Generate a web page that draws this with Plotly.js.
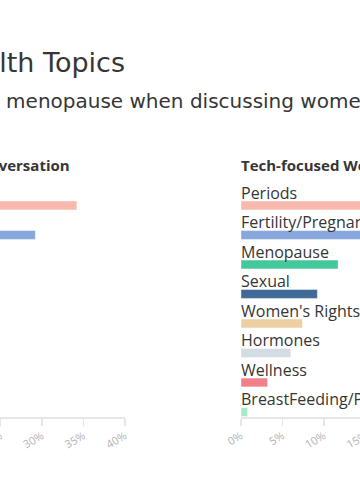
<!DOCTYPE html>
<html>
<head>
<meta charset="utf-8">
<script src="https://cdn.plot.ly/plotly-3.0.1.min.js"></script>
<style>
html, body { margin:0; padding:0; width:360px; height:500px; overflow:hidden; background:#fff; }
#wrap { position:relative; width:360px; height:500px; overflow:hidden; }
#chart { position:absolute; left:-300px; top:0; width:960px; height:500px; }
</style>
</head>
<body>
<div id="wrap"><div id="chart"></div></div>
<script>
const categories = ["Periods", "Fertility/Pregnancy", "Menopause", "Sexual", "Women's Rights", "Hormones", "Wellness", "BreastFeeding/Postpartum"];
const generalValues = [34.2, 29.2, 4.5, 14.0, 10.0, 3.5, 2.5, 1.5];
const techValues = [27.0, 25.0, 11.7, 9.2, 7.4, 6.0, 3.2, 0.8];
const colors = ["#f8b8ab", "#87a7dc", "#44c89b", "#3f6996", "#eccfa2", "#d4dce3", "#f28088", "#a5ebc8"];
const tickVals = [0, 5, 10, 15, 20, 25, 30, 35, 40];
const tickText = ["0%", "5%", "10%", "15%", "20%", "25%", "30%", "35%", "40%"];
const mainTitle = "Women's Health Topics";
const subPrefix = "Tech media spotlights ";
const subRest = "menopause when discussing women's health";
const leftTitle = "Women's Health in General Conversation";
const rightTitle = "Tech-focused Women's Health Media";

const n = categories.length;
const rowPos = categories.map((c, i) => n - 1 - i);

const FONT = "Open Sans, sans-serif";
const HFONT = "DejaVu Sans, sans-serif";
const TXT = "#363636";

// the figure is wider than the window; the window shows a part of it
const OFFSET = 300, ML = 93, PW = 780;
const pxToPaper = vx => (vx + OFFSET - ML) / PW;

const cv = document.createElement("canvas").getContext("2d");
cv.font = "20px 'DejaVu Sans'";
const prefixW = cv.measureText(subPrefix).width;

const barCommon = {
  type: "bar", orientation: "h", width: 0.3,
  marker: { color: colors, line: { color: "rgba(255,255,255,0.45)", width: 1 } },
  hoverinfo: "none", showlegend: false
};
const traces = [
  Object.assign({}, barCommon, { x: generalValues, y: rowPos, xaxis: "x", yaxis: "y" }),
  Object.assign({}, barCommon, { x: techValues, y: rowPos, xaxis: "x2", yaxis: "y2" })
];

const annotations = [];
categories.forEach((c, i) => {
  ["x", "x2"].forEach((ax, k) => {
    annotations.push({
      text: c, x: 0, xshift: -2, y: rowPos[i] + 0.43, xref: ax, yref: k === 0 ? "y" : "y2",
      xanchor: "left", yanchor: "middle", showarrow: false,
      font: { family: FONT, size: 16, color: TXT }
    });
  });
});
annotations.push({
  text: "<b>" + leftTitle + "</b>", x: pxToPaper(72), y: 1.086, xref: "paper", yref: "paper",
  xanchor: "right", yanchor: "middle", showarrow: false,
  font: { family: FONT, size: 15, color: TXT }
});
annotations.push({
  text: "<b>" + rightTitle + "</b>", x: pxToPaper(239), y: 1.086, xref: "paper", yref: "paper",
  xanchor: "left", yanchor: "middle", showarrow: false,
  font: { family: FONT, size: 15, color: TXT }
});
annotations.push({
  text: mainTitle, x: pxToPaper(127), y: 1.53, xref: "paper", yref: "paper",
  xanchor: "right", yanchor: "middle", showarrow: false,
  font: { family: HFONT, size: 27, color: TXT }
});
annotations.push({
  text: subPrefix + subRest, x: pxToPaper(3 - prefixW), y: 1.36, xref: "paper", yref: "paper",
  xanchor: "left", yanchor: "middle", showarrow: false,
  font: { family: HFONT, size: 20, color: TXT }
});

const xCommon = {
  range: [0, 40], tickvals: tickVals, ticktext: tickText, tickangle: -30,
  showgrid: false, zeroline: false, showline: true, linecolor: "#e6e6e6", linewidth: 1.5,
  ticks: "outside", ticklen: 7, tickcolor: "#e6e6e6", tickwidth: 1.5,
  tickfont: { family: FONT, size: 11, color: "#b4b4b4" }, fixedrange: true
};
const yCommon = {
  range: [-0.17, 7.694], visible: false, showgrid: false, zeroline: false, fixedrange: true
};

const layout = {
  width: 960, height: 500,
  margin: { l: ML, r: 960 - ML - PW, t: 185, b: 83 },
  paper_bgcolor: "#ffffff", plot_bgcolor: "#ffffff",
  xaxis: Object.assign({}, xCommon, { domain: [0, 0.42564], anchor: "y" }),
  xaxis2: Object.assign({}, xCommon, { domain: [0.57436, 1], anchor: "y2" }),
  yaxis: Object.assign({}, yCommon, { domain: [0, 1], anchor: "x" }),
  yaxis2: Object.assign({}, yCommon, { domain: [0, 1], anchor: "x2" }),
  annotations: annotations,
  bargap: 0
};

Plotly.newPlot("chart", traces, layout, { displayModeBar: false, staticPlot: true });
</script>
</body>
</html>
